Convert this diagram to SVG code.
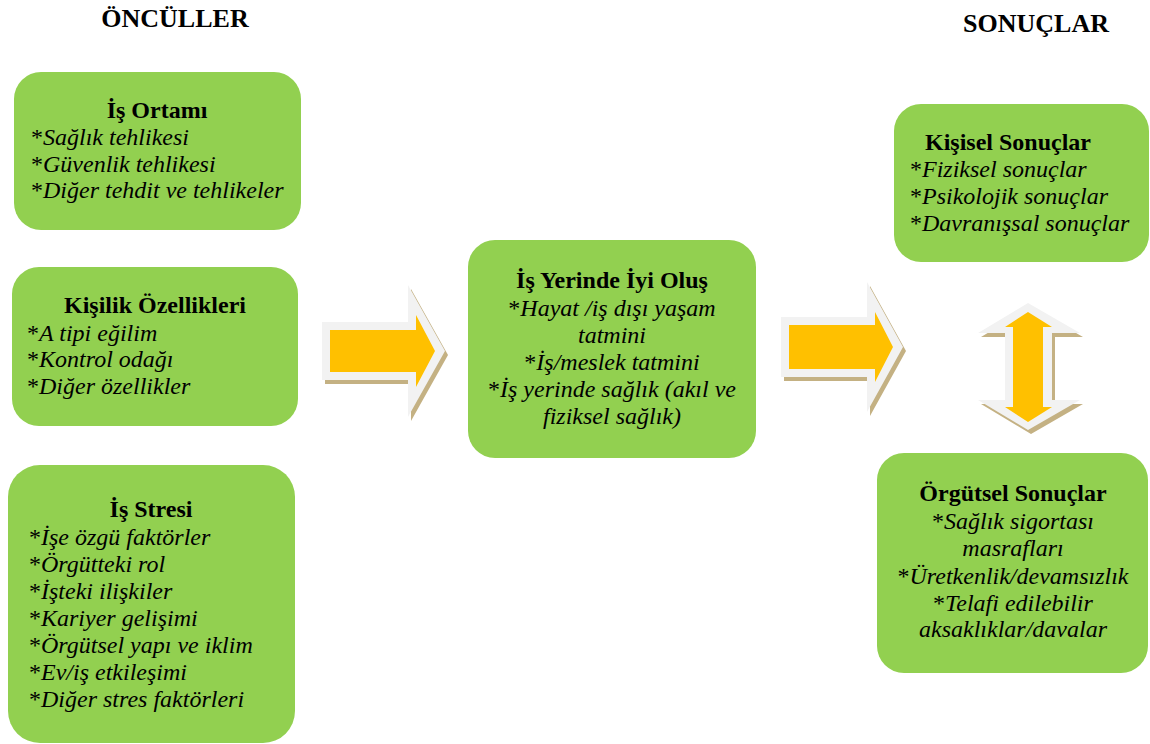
<svg xmlns="http://www.w3.org/2000/svg" width="1150" height="744" viewBox="0 0 1150 744">
  <style>
    .box { fill: #92D050; }
    .head { font-family: "Liberation Serif", "Times New Roman", serif; font-weight: bold; font-size: 26px; fill: #000; }
    .title { font-family: "Liberation Serif", "Times New Roman", serif; font-weight: bold; font-size: 24px; fill: #000; }
    .item { font-family: "Liberation Serif", "Times New Roman", serif; font-style: italic; font-size: 24px; fill: #000; }
    .star { font-style: normal; }
    .mid { text-anchor: middle; }
    .shadow { fill: #C4B183; }
    .rim { fill: #F2F2F2; }
    .core { fill: #FFC000; }
  </style>

  <rect width="1150" height="744" fill="#FFFFFF"/>

  <!-- column headings -->
  <text class="head mid" x="175" y="27">ÖNCÜLLER</text>
  <text class="head mid" x="1036" y="32">SONUÇLAR</text>

  <!-- antecedents -->
  <g id="is-ortami">
    <rect class="box" x="14" y="72" width="287" height="158" rx="27"/>
    <text class="title mid" x="157" y="118">İş Ortamı</text>
    <text class="item" x="31" y="145"><tspan class="star">*</tspan>Sağlık tehlikesi</text>
    <text class="item" x="31" y="172"><tspan class="star">*</tspan>Güvenlik tehlikesi</text>
    <text class="item" x="31" y="198"><tspan class="star">*</tspan>Diğer tehdit ve tehlikeler</text>
  </g>

  <g id="kisilik">
    <rect class="box" x="12" y="267" width="286" height="159" rx="27"/>
    <text class="title mid" x="155" y="313">Kişilik Özellikleri</text>
    <text class="item" x="27" y="341"><tspan class="star">*</tspan>A tipi eğilim</text>
    <text class="item" x="27" y="367"><tspan class="star">*</tspan>Kontrol odağı</text>
    <text class="item" x="27" y="394"><tspan class="star">*</tspan>Diğer özellikler</text>
  </g>

  <g id="is-stresi">
    <rect class="box" x="8" y="465" width="287" height="278" rx="32"/>
    <text class="title mid" x="151" y="517">İş Stresi</text>
    <text class="item" x="29" y="545"><tspan class="star">*</tspan>İşe özgü faktörler</text>
    <text class="item" x="29" y="572"><tspan class="star">*</tspan>Örgütteki rol</text>
    <text class="item" x="29" y="599"><tspan class="star">*</tspan>İşteki ilişkiler</text>
    <text class="item" x="29" y="626"><tspan class="star">*</tspan>Kariyer gelişimi</text>
    <text class="item" x="29" y="653"><tspan class="star">*</tspan>Örgütsel yapı ve iklim</text>
    <text class="item" x="29" y="680"><tspan class="star">*</tspan>Ev/iş etkileşimi</text>
    <text class="item" x="29" y="707"><tspan class="star">*</tspan>Diğer stres faktörleri</text>
  </g>

  <!-- well-being -->
  <g id="iyi-olus">
    <rect class="box" x="468" y="240" width="288" height="218" rx="27"/>
    <text class="title mid" x="612" y="288">İş Yerinde İyi Oluş</text>
    <text class="item mid" x="612" y="316"><tspan class="star">*</tspan>Hayat /iş dışı yaşam</text>
    <text class="item mid" x="612" y="343">tatmini</text>
    <text class="item mid" x="612" y="370"><tspan class="star">*</tspan>İş/meslek tatmini</text>
    <text class="item mid" x="612" y="397"><tspan class="star">*</tspan>İş yerinde sağlık (akıl ve</text>
    <text class="item mid" x="612" y="424">fiziksel sağlık)</text>
  </g>

  <!-- outcomes -->
  <g id="kisisel-sonuclar">
    <rect class="box" x="894" y="104" width="255" height="158" rx="27"/>
    <text class="title mid" x="1008" y="150">Kişisel Sonuçlar</text>
    <text class="item" x="910" y="177"><tspan class="star">*</tspan>Fiziksel sonuçlar</text>
    <text class="item" x="910" y="204"><tspan class="star">*</tspan>Psikolojik sonuçlar</text>
    <text class="item" x="910" y="231"><tspan class="star">*</tspan>Davranışsal sonuçlar</text>
  </g>

  <g id="orgutsel-sonuclar">
    <rect class="box" x="877" y="453" width="271" height="220" rx="27"/>
    <text class="title mid" x="1013" y="501">Örgütsel Sonuçlar</text>
    <text class="item mid" x="1013" y="529"><tspan class="star">*</tspan>Sağlık sigortası</text>
    <text class="item mid" x="1013" y="556">masrafları</text>
    <text class="item mid" x="1013" y="584"><tspan class="star">*</tspan>Üretkenlik/devamsızlık</text>
    <text class="item mid" x="1013" y="611"><tspan class="star">*</tspan>Telafi edilebilir</text>
    <text class="item mid" x="1013" y="637">aksaklıklar/davalar</text>
  </g>

  <!-- block arrows: shadow, light rim, yellow core -->
  <g id="connectors">
    <g id="arrow-left">
      <polygon class="shadow" points="325,326 411,326 411,289 448,355 411,421 411,384 325,384"/>
      <polygon class="rim" points="322,322 408,322 408,285 445,351 408,417 408,380 322,380"/>
      <polygon class="core" points="330,330 416,330 416,315 435,351 416,387 416,372 330,372"/>
    </g>
    <g id="arrow-right">
      <polygon class="shadow" points="784,321 870,321 870,286 906,351 870,416 870,381 784,381"/>
      <polygon class="rim" points="781,317 867,317 867,282 903,347 867,412 867,377 781,377"/>
      <polygon class="core" points="789,325 875,325 875,312 893,347 875,382 875,369 789,369"/>
    </g>
    <g id="arrow-both">
      <polygon class="shadow" points="1031,307 1083,337 1055,337 1055,404 1083,404 1031,434 981,404 1008,404 1008,337 981,337"/>
      <polygon class="rim" points="1028,303 1080,333 1052,333 1052,400 1080,400 1028,430 978,400 1005,400 1005,333 978,333"/>
      <polygon class="core" points="1028,312 1052,327 1043,327 1043,407 1052,407 1028,422 1005,407 1013,407 1013,327 1005,327"/>
    </g>
  </g>
</svg>
